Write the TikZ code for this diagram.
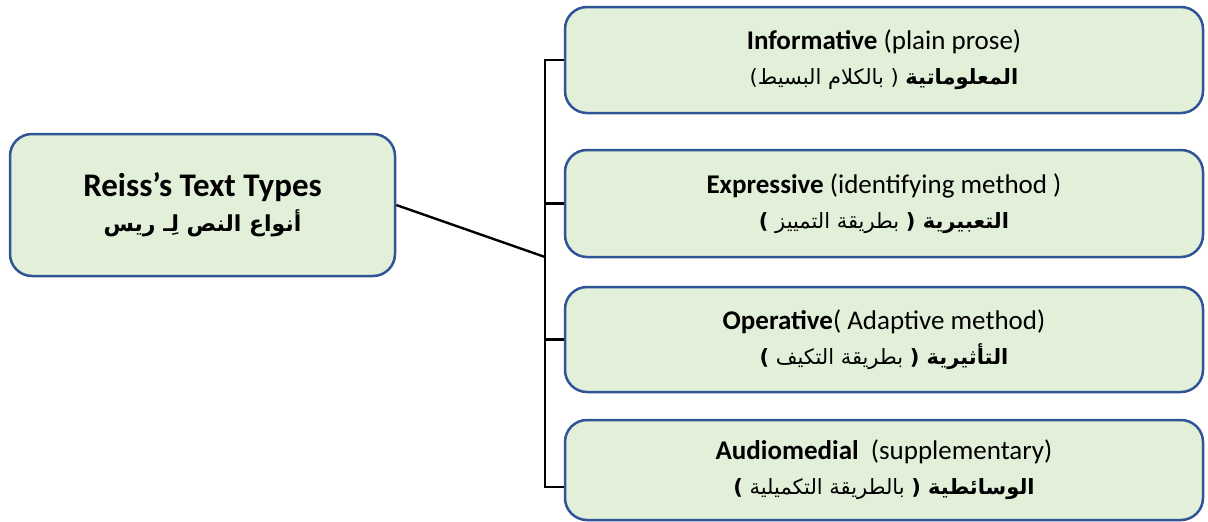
\documentclass[tikz,border=0pt]{standalone}
\usepackage{fontspec}
\setmainfont{Carlito}
\newfontfamily\arabicfont[Script=Arabic]{DejaVu Sans}
\TeXXeTstate=1
\definecolor{boxfill}{HTML}{E2EFD9}
\definecolor{boxline}{HTML}{2F5597}
% right-to-left Arabic run
\newcommand\ar[1]{{\arabicfont\beginR #1\endR}}

\begin{document}
\begin{tikzpicture}[x=1pt,y=-1pt,
  typebox/.style={draw=boxline, line width=2.5pt, fill=boxfill,
    rounded corners=22pt, align=center, inner sep=0pt,
    minimum width=638pt},
  rootbox/.style={typebox, minimum width=385pt, minimum height=142pt,
    font=\fontsize{33}{35}\selectfont},
  leafbox/.style={typebox, font=\fontsize{27}{35}\selectfont},
  link/.style={line width=2.4pt, draw=black}]
\useasboundingbox (0,0) rectangle (1208,522);

% root of the tree
\node[rootbox] (root) at (202.5,205)
  {\textbf{Reiss’s Text Types}\\
   {\fontsize{22}{28}\selectfont\bfseries\ar{أنواع النص لِـ ريس}}};

% the four text types
\node[leafbox, minimum height=106pt] (info) at (884,60)
  {\textbf{Informative} (plain prose)\\
   {\fontsize{21}{28}\selectfont\ar{\textbf{المعلوماتية} ( بالكلام البسيط)}}};
\node[leafbox, minimum height=107pt] (expr) at (884,203.5)
  {\textbf{Expressive} (identifying method )\\
   {\fontsize{21}{28}\selectfont\ar{\textbf{التعبيرية (} بطريقة التمييز \textbf{)}}}};
\node[leafbox, minimum height=105pt] (oper) at (884,339.5)
  {\textbf{Operative}( Adaptive method)\\
   {\fontsize{21}{28}\selectfont\ar{\textbf{التأثيرية (} بطريقة التكيف \textbf{)}}}};
\node[leafbox, minimum height=100pt] (audio) at (884,470)
  {\textbf{Audiomedial}\ \ (supplementary)\\
   {\fontsize{21}{28}\selectfont\ar{\textbf{الوسائطية (} بالطريقة التكميلية \textbf{)}}}};

% bracket joining the four boxes
\coordinate (top) at (545,60);
\coordinate (bottom) at (545,487);
\coordinate (hub) at (545,257);
\draw[link] (info.west) -- (top) -- (bottom) -- (audio.west |- bottom);
\draw[link] (expr.west) -- (expr.west -| top);
\draw[link] (oper.west) -- (oper.west -| top);
\draw[link] (root.east) -- (hub);
\end{tikzpicture}
\end{document}
